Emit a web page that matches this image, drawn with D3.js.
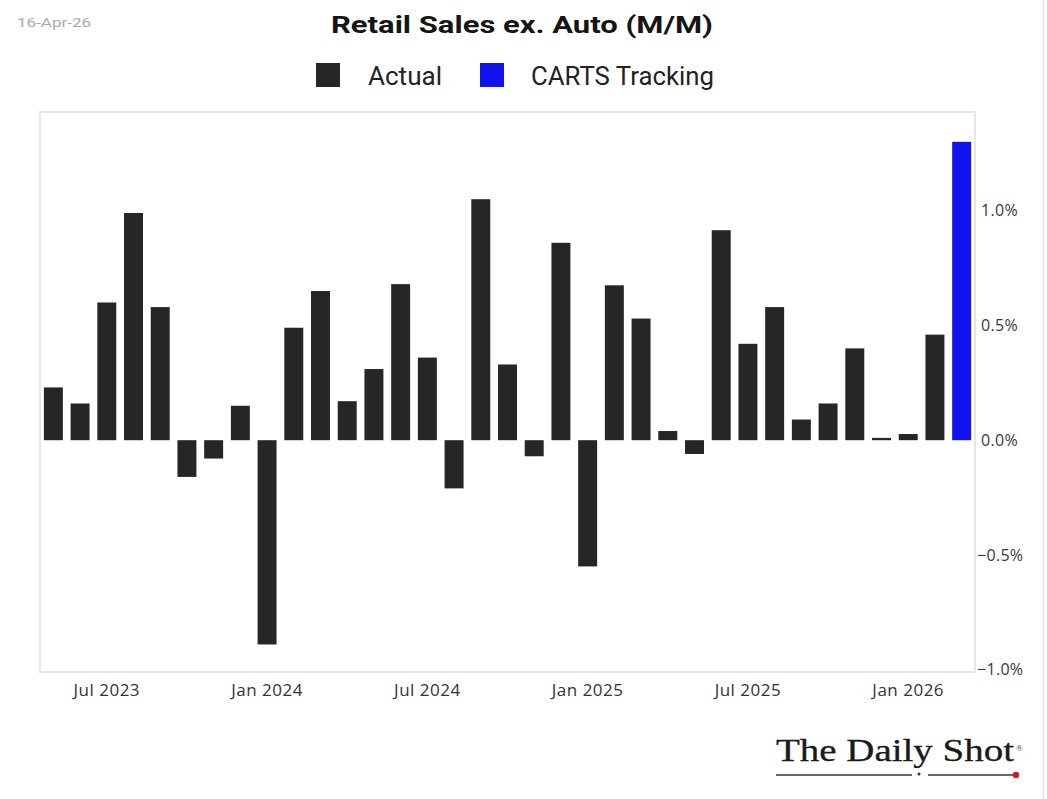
<!DOCTYPE html>
<html><head><meta charset="utf-8">
<script src="https://cdn.jsdelivr.net/npm/d3@7"></script>
<style>html,body{margin:0;padding:0;background:#fff;}svg{display:block;}</style>
</head><body>
<svg id="c" width="1047" height="799"></svg>
<script>
const months = ["2023-05","2023-06","2023-07","2023-08","2023-09","2023-10","2023-11","2023-12",
"2024-01","2024-02","2024-03","2024-04","2024-05","2024-06","2024-07","2024-08","2024-09","2024-10","2024-11","2024-12",
"2025-01","2025-02","2025-03","2025-04","2025-05","2025-06","2025-07","2025-08","2025-09","2025-10","2025-11","2025-12",
"2026-01","2026-02","2026-03"];
const actual = [0.23,0.16,0.60,0.99,0.58,-0.16,-0.08,0.15,
-0.89,0.49,0.65,0.17,0.31,0.68,0.36,-0.21,1.05,0.33,-0.07,0.86,
-0.55,0.675,0.53,0.04,-0.06,0.915,0.42,0.58,0.09,0.16,0.40,0.01,
0.027,0.46,null];
const carts = [null,null,null,null,null,null,null,null,null,null,null,null,null,null,null,null,null,null,null,null,
null,null,null,null,null,null,null,null,null,null,null,null,null,null,1.30];
const yTicks = [1.0,0.5,0.0,-0.5,-1.0];
const xTickMonths = ["2023-07","2024-01","2024-07","2025-01","2025-07","2026-01"];
const xTickLabels = ["Jul 2023","Jan 2024","Jul 2024","Jan 2025","Jul 2025","Jan 2026"];
const title = "Retail Sales ex. Auto (M/M)";
const legendLabels = ["Actual","CARTS Tracking"];
const dateStamp = "16-Apr-26";

const svg = d3.select("#c");
const L=40, R=975, T=112, B=672;
const x = d3.scaleBand().domain(months).range([L,R]).paddingInner(0.29).paddingOuter(0.145);
const y = d3.scaleLinear().domain([-1.01,1.43]).range([B,T]);
const FONT = "Roboto, 'Noto Sans', sans-serif";
const AXFONT = "'Open Sans', 'Noto Sans', sans-serif";
const dark = "#262626", blue = "#1111ee";

// outer faint right edge
svg.append("line").attr("x1",1043.5).attr("x2",1043.5).attr("y1",0).attr("y2",799).attr("stroke","#e4e4e4").attr("stroke-width",1.5);

// plot frame
svg.append("rect").attr("x",L).attr("y",T).attr("width",R-L).attr("height",B-T)
  .attr("fill","none").attr("stroke","#dedede").attr("stroke-width",1.5);

// bars
svg.append("g").selectAll("rect").data(months.map((m,i)=>({m,v:actual[i]})).filter(d=>d.v!==null))
  .join("rect").attr("x",d=>x(d.m)).attr("width",x.bandwidth())
  .attr("y",d=>y(Math.max(0,d.v))).attr("height",d=>Math.max(1.5,Math.abs(y(d.v)-y(0))))
  .attr("fill",dark);
svg.append("g").selectAll("rect").data(months.map((m,i)=>({m,v:carts[i]})).filter(d=>d.v!==null))
  .join("rect").attr("x",d=>x(d.m)).attr("width",x.bandwidth())
  .attr("y",d=>y(Math.max(0,d.v))).attr("height",d=>Math.abs(y(d.v)-y(0)))
  .attr("fill",blue);

// right axis
const yAxis = d3.axisRight(y).tickValues(yTicks).tickSize(0).tickPadding(0)
  .tickFormat(d=> (d<0?"\u2212":"") + Math.abs(d).toFixed(1)+"%");
const ya = svg.append("g").attr("transform",`translate(${R+5},0)`).call(yAxis);
ya.select(".domain").remove();
ya.selectAll("text").attr("font-family",AXFONT).attr("font-size",16).attr("fill","#3a3a3a")
  .attr("letter-spacing","0.3px").attr("dx", d=> d<0 ? -3 : 1);

// bottom axis
const xAxis = d3.axisBottom(x).tickValues(xTickMonths).tickSize(0).tickPadding(0)
  .tickFormat(d=>xTickLabels[xTickMonths.indexOf(d)]);
const xa = svg.append("g").attr("transform",`translate(0,${B+12})`).call(xAxis);
xa.select(".domain").remove();
xa.selectAll("text").attr("font-family",AXFONT).attr("font-size",17).attr("fill","#333")
  .attr("letter-spacing","0.5px").attr("dy","0.71em");

// title
svg.append("text").attr("x",522).attr("y",33).attr("text-anchor","middle")
  .attr("font-family",FONT).attr("font-weight","bold").attr("font-size",24).attr("fill","#151515")
  .attr("textLength",382).attr("lengthAdjust","spacingAndGlyphs").text(title);

// date
svg.append("text").attr("x",17).attr("y",27).attr("font-family",FONT).attr("font-size",12.5)
  .attr("fill","#a8a8a8").attr("textLength",74).attr("lengthAdjust","spacingAndGlyphs").text(dateStamp);

// legend
const leg = [{c:dark,x:316,tx:368,tl:74},{c:blue,x:480,tx:531,tl:183}];
leg.forEach((d,i)=>{
  svg.append("rect").attr("x",d.x).attr("y",63).attr("width",24).attr("height",24).attr("fill",d.c);
  svg.append("text").attr("x",d.tx).attr("y",85).attr("font-family",FONT).attr("font-size",25)
    .attr("fill","#222").attr("textLength",d.tl).attr("lengthAdjust","spacingAndGlyphs").text(legendLabels[i]);
});

// logo
svg.append("text").attr("x",776).attr("y",761).attr("font-family","'Liberation Serif','DejaVu Serif',serif")
  .attr("font-size",31).attr("fill","#1a1a1a").attr("stroke","#1a1a1a").attr("stroke-width",0.3)
  .attr("textLength",238).attr("lengthAdjust","spacingAndGlyphs")
  .text("The Daily Shot");
svg.append("text").attr("x",1016).attr("y",751).attr("font-family","'Liberation Serif',serif")
  .attr("font-size",9).attr("fill","#444").text("®");
svg.append("line").attr("x1",776).attr("x2",912).attr("y1",775).attr("y2",775).attr("stroke","#333").attr("stroke-width",1.6);
svg.append("line").attr("x1",928).attr("x2",1014).attr("y1",775).attr("y2",775).attr("stroke","#333").attr("stroke-width",1.6);
svg.append("circle").attr("cx",919).attr("cy",774).attr("r",1.5).attr("fill","#333");
svg.append("circle").attr("cx",1016).attr("cy",775).attr("r",3.2).attr("fill","#d61a1a");
</script>
</body></html>
